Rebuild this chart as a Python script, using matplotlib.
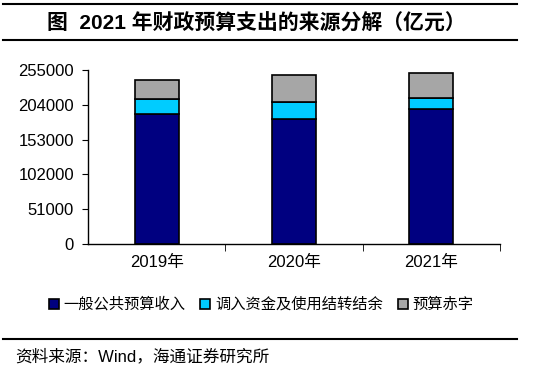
import numpy as np
import matplotlib
matplotlib.use('Agg')
from matplotlib import pyplot as plt
from matplotlib.lines import Line2D

plt.rcParams['font.family'] = ['Liberation Sans', 'Noto Sans CJK SC', 'DejaVu Sans']

years = ['2019年', '2020年', '2021年']
revenue = [190200, 182900, 198400]
transfer = [21900, 24800, 15600]
deficit = [28300, 39500, 36200]
series_names = ['一般公共预算收入', '调入资金及使用结转结余', '预算赤字']
colors = ['#000080', '#00CCFF', '#A6A6A6']
yticks = [0, 51000, 102000, 153000, 204000, 255000]

fig = plt.figure(figsize=(5.5, 3.7), dpi=100)
ax = fig.add_axes([0.16, 0.34, 0.749, 0.471])

x = np.arange(len(years))
bottom = np.zeros(len(years))
for vals, name, c in zip([revenue, transfer, deficit], series_names, colors):
    ax.bar(x, vals, width=0.32, bottom=bottom, color=c, edgecolor='black',
           linewidth=1.2, label=name, zorder=2)
    bottom += np.array(vals)

ax.set_ylim(0, 255000)
ax.set_xlim(-0.5, 2.5)
ax.set_yticks(yticks)
ax.set_yticklabels([str(v) for v in yticks], fontsize=12)
ax.set_xticks(x)
ax.set_xticklabels(years, fontsize=12)
ax.set_xticks([0.5, 1.5, 2.5], minor=True)
ax.tick_params(axis='x', which='major', length=0, pad=8)
ax.tick_params(axis='x', which='minor', length=5, direction='out')
ax.tick_params(axis='y', length=4, direction='out', pad=6)
for s in ['top', 'right']:
    ax.spines[s].set_visible(False)
ax.spines['left'].set_linewidth(1.0)
ax.spines['bottom'].set_linewidth(1.0)

ax.legend(loc='upper center', bbox_to_anchor=(0.42, -0.27), ncol=3, frameon=False,
          fontsize=11, handlelength=0.65, handleheight=0.65, handletextpad=0.3,
          columnspacing=1.0, borderaxespad=0)

# title and rule lines
fig.add_artist(Line2D([0.006, 0.94], [0.988, 0.988], color='black', lw=1.5))
fig.add_artist(Line2D([0.006, 0.94], [0.893, 0.893], color='black', lw=1.5))
fig.text(0.467, 0.937, '图  2021 年财政预算支出的来源分解（亿元）', ha='center', va='center',
         fontsize=15, fontweight='bold')
fig.add_artist(Line2D([0.006, 0.94], [0.084, 0.084], color='black', lw=1.5))
fig.text(0.027, 0.038, '资料来源：Wind，海通证券研究所', ha='left', va='center', fontsize=12)

fig.savefig('out.png', dpi=100)
